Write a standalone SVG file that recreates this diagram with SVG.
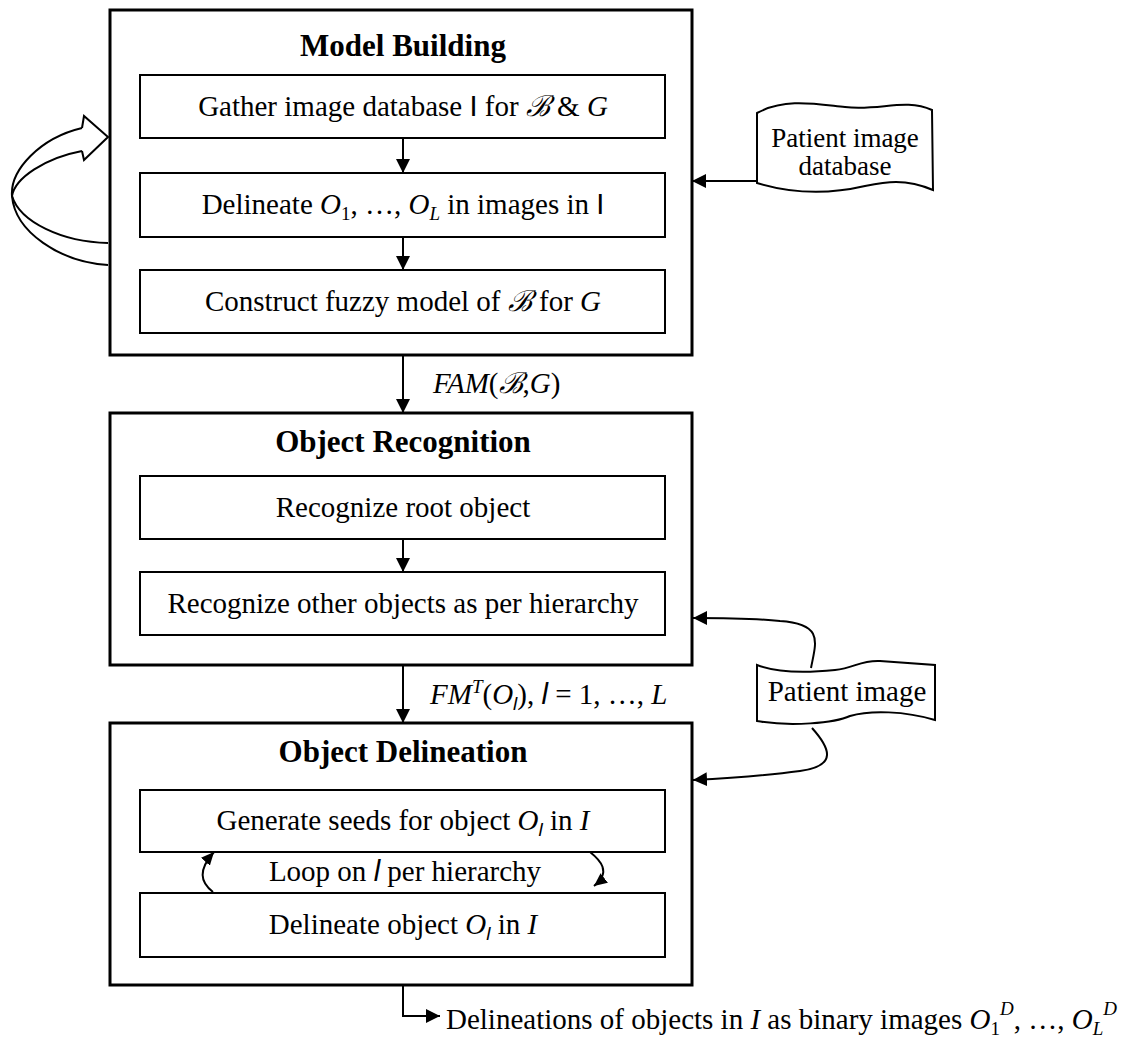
<svg xmlns="http://www.w3.org/2000/svg" width="1135" height="1038" viewBox="0 0 1135 1038">
<defs>
<style>
.outer{fill:#fff;stroke:#000;stroke-width:3}
.inner{fill:#fff;stroke:#000;stroke-width:2}
.doc{fill:#fff;stroke:#000;stroke-width:2}
.ln{fill:none;stroke:#000;stroke-width:2}
text{font-family:"Liberation Serif","DejaVu Serif",serif;font-size:29px;fill:#000}
.t{font-weight:bold;font-size:31px}
.c{text-anchor:middle}
.i{font-style:italic}
.s{font-family:"Liberation Sans","DejaVu Sans",sans-serif}
.sm{font-size:19px}
.d{font-size:27px}
</style>
<marker id="ah" markerWidth="14" markerHeight="14" refX="14" refY="7" orient="auto" markerUnits="userSpaceOnUse"><path d="M0,0 L14,7 L0,14 z" fill="#000"/></marker>
<marker id="ahs" markerWidth="13" markerHeight="12" refX="13" refY="6" orient="auto" markerUnits="userSpaceOnUse"><path d="M0,0 L13,6 L0,12 z" fill="#000"/></marker>
</defs>
<rect width="1135" height="1038" fill="#fff"/>

<g id="model-building">
<rect class="outer" x="110" y="10" width="582" height="345"/>
<text class="t c" x="403" y="56">Model Building</text>
</g>
<g id="gather">
<rect class="inner" x="140" y="75" width="525" height="63"/>
<text class="c" x="403" y="116">Gather image database <tspan class="s">I</tspan> for <tspan class="i">ℬ</tspan> &amp; <tspan class="i">G</tspan></text>
</g>
<g id="delineate-all">
<rect class="inner" x="140" y="173" width="525" height="64"/>
<text class="c" x="403" y="214">Delineate <tspan class="i">O</tspan><tspan class="sm" dy="6">1</tspan><tspan dy="-6">, …, </tspan><tspan class="i">O</tspan><tspan class="sm i" dy="6">L</tspan><tspan dy="-6"> in images in </tspan><tspan class="s">I</tspan></text>
</g>
<g id="construct">
<rect class="inner" x="140" y="270" width="525" height="63"/>
<text class="c" x="403" y="311">Construct fuzzy model of <tspan class="i">ℬ</tspan> for <tspan class="i">G</tspan></text>
</g>

<g id="object-recognition">
<rect class="outer" x="110" y="413" width="582" height="252"/>
<text class="t c" x="403" y="452">Object Recognition</text>
</g>
<g id="recognize-root">
<rect class="inner" x="140" y="476" width="525" height="63"/>
<text class="c" x="403" y="517">Recognize root object</text>
</g>
<g id="recognize-other">
<rect class="inner" x="140" y="572" width="525" height="63"/>
<text class="c" x="403" y="613">Recognize other objects as per hierarchy</text>
</g>

<g id="object-delineation">
<rect class="outer" x="110" y="723" width="582" height="262"/>
<text class="t c" x="403" y="762">Object Delineation</text>
</g>
<g id="generate-seeds">
<rect class="inner" x="140" y="790" width="525" height="62"/>
<text class="c" x="403" y="830">Generate seeds for object <tspan class="i">O</tspan><tspan class="sm i s" dy="6">l</tspan><tspan dy="-6"> in </tspan><tspan class="i">I</tspan></text>
</g>
<g id="delineate-object">
<rect class="inner" x="140" y="893" width="525" height="64"/>
<text class="c" x="403" y="934">Delineate object <tspan class="i">O</tspan><tspan class="sm i s" dy="6">l</tspan><tspan dy="-6"> in </tspan><tspan class="i">I</tspan></text>
</g>

<g id="patient-image-database">
<path class="doc" d="M757,113 C785,98 815,104 845,107 C880,111 905,98 932,110 L933,190 C905,178 885,182 865,186 C835,193 800,196 757,183 Z"/>
<text class="c d" x="845" y="147">Patient image</text>
<text class="c d" x="845" y="175">database</text>
</g>
<g id="patient-image">
<path class="doc" d="M757,665 C775,672 805,673 835,670 C855,668 860,660 880,661 L935,665 L935,720 C905,711 870,710 850,716 C835,723 790,727 757,721 Z"/>
<text class="c" x="847" y="701">Patient image</text>
</g>

<g id="connectors">
<line class="ln" x1="403" y1="138" x2="403" y2="173" marker-end="url(#ah)"/>
<line class="ln" x1="403" y1="237" x2="403" y2="270" marker-end="url(#ah)"/>
<line class="ln" x1="403" y1="355" x2="403" y2="413" marker-end="url(#ah)"/>
<line class="ln" x1="403" y1="539" x2="403" y2="572" marker-end="url(#ah)"/>
<line class="ln" x1="403" y1="665" x2="403" y2="723" marker-end="url(#ah)"/>
<path class="ln" d="M403,985 V1016 H440" marker-end="url(#ah)"/>
<line class="ln" x1="757" y1="181" x2="692" y2="181" marker-end="url(#ah)"/>
<path class="ln" d="M811,668 C816,642 824,624 780,621 C760,619 730,618 693,618" marker-end="url(#ah)"/>
<path class="ln" d="M812,728 C830,748 838,766 800,771 C770,775 730,778 693,780" marker-end="url(#ah)"/>
<path class="ln" d="M213,892 C200,882 198,870 214,852" marker-end="url(#ahs)"/>
<path class="ln" d="M590,852 C600,860 612,872 594,886" marker-end="url(#ahs)"/>
<path d="M82,128 C40,138 10,170 12,196 C15,232 60,262 108,265" fill="none" stroke="#000" stroke-width="2"/>
<path d="M82,151 C45,158 15,178 12,196 C20,222 62,242 108,243" fill="none" stroke="#000" stroke-width="2"/>
<path d="M82,128 L84,116 L108,137 L84,160 L82,151" fill="#fff" stroke="#000" stroke-width="2" stroke-linejoin="miter"/>
<text class="i" x="433" y="393">FAM<tspan style="font-style:normal">(</tspan>ℬ<tspan style="font-style:normal">,</tspan>G<tspan style="font-style:normal">)</tspan></text>
<text x="430" y="704"><tspan class="i">FM</tspan><tspan class="i sm" dy="-11">T</tspan><tspan dy="11">(</tspan><tspan class="i">O</tspan><tspan class="i s sm" dy="6">l</tspan><tspan dy="-6">), </tspan><tspan class="i s">l</tspan> = 1, …, <tspan class="i">L</tspan></text>
<text class="c" x="405" y="881">Loop on <tspan class="i s">l</tspan> per hierarchy</text>
<text x="446" y="1029">Delineations of objects in <tspan class="i">I</tspan> as binary images <tspan class="i">O</tspan><tspan class="sm" dy="6">1</tspan><tspan class="i sm" dy="-20">D</tspan><tspan dy="14">, …, </tspan><tspan class="i">O</tspan><tspan class="i sm" dy="6">L</tspan><tspan class="i sm" dy="-20">D</tspan></text>
</g>
</svg>
